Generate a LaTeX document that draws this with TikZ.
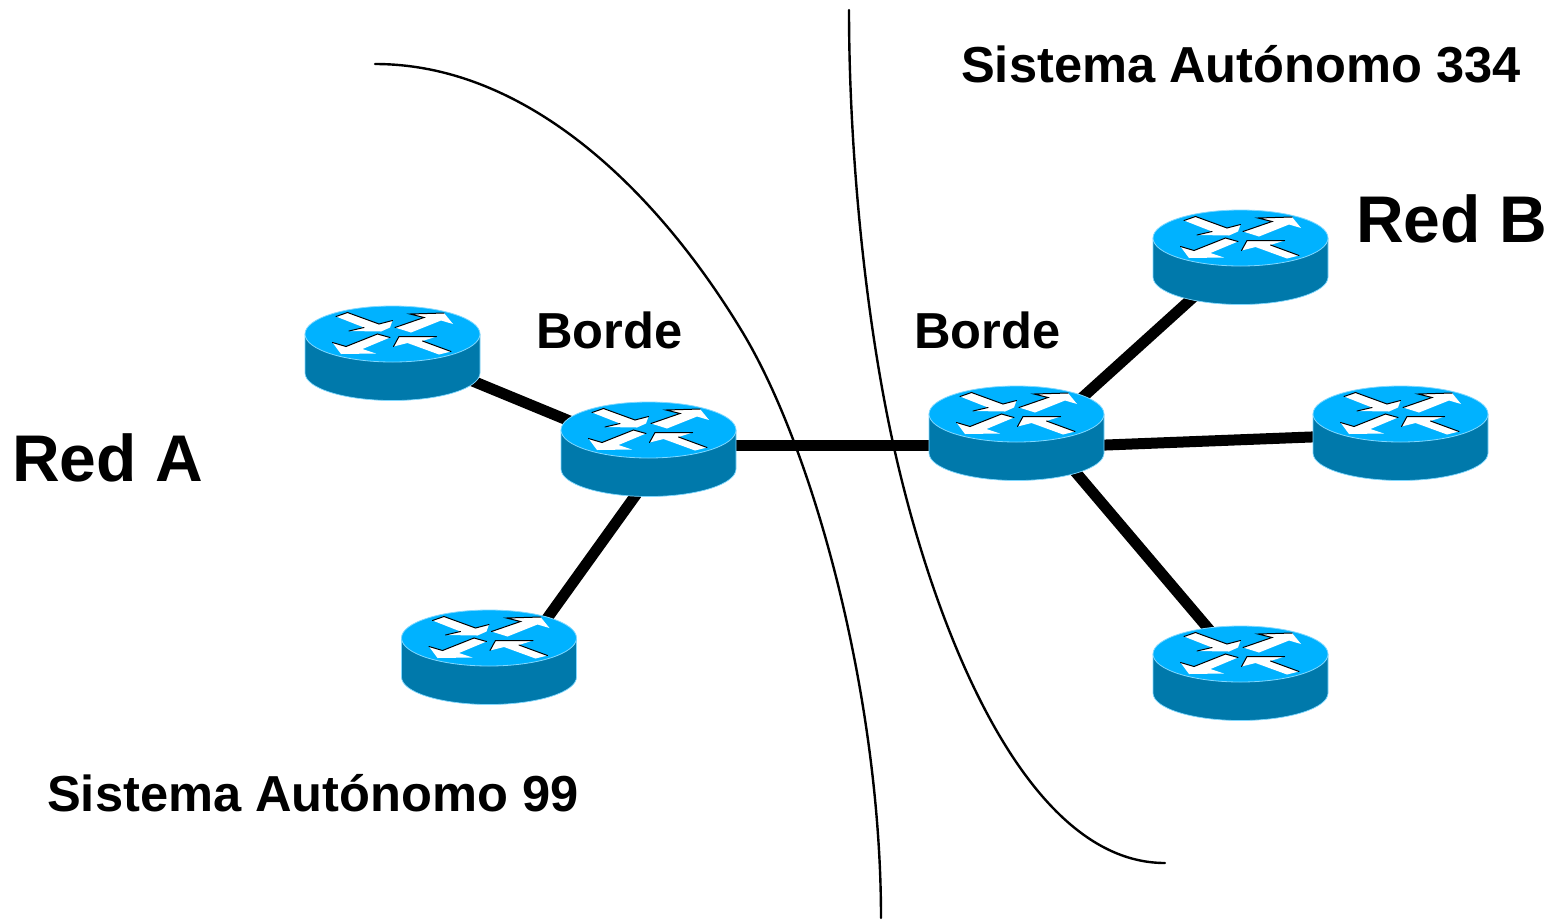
\documentclass[tikz,border=0pt]{standalone}
\usepackage{fontspec}
\setmainfont{Liberation Sans}
\usetikzlibrary{calc}
\definecolor{rtop}{HTML}{00B2FF}
\definecolor{rside}{HTML}{0079AB}
\definecolor{redge}{HTML}{80D8FF}
\tikzset{
  routerbox/.style={rectangle,minimum width=175pt,minimum height=94pt,inner sep=0pt},
  link/.style={line width=11pt,black},
  boundary/.style={line width=2.4pt,black,line cap=round},
  small label/.style={anchor=base west,inner sep=0pt,font=\fontsize{50.6}{50.6}\selectfont\bfseries},
  big label/.style={anchor=base west,inner sep=0pt,font=\fontsize{66}{66}\selectfont\bfseries},
  arrowshape/.style={fill=white,draw=none},
  arrowshade/.style={black,line width=1pt,line cap=round},
  router/.pic={
    % side, then top; origin is the centre of the top ellipse
    \fill[rside] (-87.5,0) -- (-87.5,39) arc[start angle=180,end angle=360,x radius=87.5pt,y radius=27.5pt]
       -- (87.5,0) -- cycle;
    \draw[redge,line width=.7pt] (-87.5,0) -- (-87.5,39) arc[start angle=180,end angle=360,x radius=87.5pt,y radius=27.5pt] -- (87.5,0);
    \fill[rtop] (0,0) ellipse[x radius=87.5pt,y radius=28pt];
    \draw[redge,line width=.8pt] (0,0) ellipse[x radius=87.5pt,y radius=28pt];
    % four arrows
    \fill[arrowshape] (-56.5,-17.5) -- (-45,-21.5) -- (-13.5,-10) -- (0,-13.5) -- (-2.5,-6.5) -- (-11.5,-2.5) -- (-43.5,-3) -- (-28.5,-6.5) -- cycle;
    \draw[arrowshade] (-56.5,-17.5) -- (-45,-21.5) -- (-13.5,-10) -- (0,-13.5);
    \draw[arrowshade] (-43.5,-3) -- (-28.5,-6.5);
    \fill[arrowshape] (2.5,-6.5) -- (31.5,-16.5) -- (17.5,-20) -- (51.5,-21) -- (60.5,-10) -- (48.5,-13.5) -- (18.5,-1.5) -- cycle;
    \draw[arrowshade] (2.5,-6.5) -- (31.5,-16.5) -- (17.5,-20) -- (51.5,-21);
    \fill[arrowshape] (-60,8.5) -- (-46.5,12.5) -- (-15,0) -- (-2.5,3.5) -- (-30,15) -- (-16.5,19.5) -- (-51.5,20) -- cycle;
    \draw[arrowshade] (-60,8.5) -- (-46.5,12.5) -- (-15,0) -- (-2.5,3.5);
    \fill[arrowshape] (1,12.5) -- (6.5,2.5) -- (44,2.5) -- (30,7) -- (58.5,17.5) -- (46.5,20.5) -- (15,9) -- cycle;
    \draw[arrowshade] (1,12.5) -- (6.5,2.5) -- (44,2.5);
    \draw[arrowshade] (30,7) -- (58.5,17.5);
  }
}
\begin{document}
\begin{tikzpicture}[x=1pt,y=-1pt]
\useasboundingbox (0,0) rectangle (1552,919);
% router positions
\node[routerbox] (r1) at (392.5,353.5) {};
\node[routerbox] (r2) at (648.5,449.5) {};
\node[routerbox] (r3) at (489,657.5) {};
\node[routerbox] (r4) at (1016.5,433.5) {};
\node[routerbox] (r5) at (1240.5,257.5) {};
\node[routerbox] (r6) at (1400.5,433.5) {};
\node[routerbox] (r7) at (1240.5,673.5) {};
% links
\draw[link] ($(r1)+(0,-5.5)$) -- ($(r2)+(0,4)$);
\draw[link] ($(r2)+(20,0)$) -- ($(r3)+(30,0)$);
\draw[link] ($(r2)+(0,-4.5)$) -- ($(r4)+(0,11.5)$);
\draw[link] ($(r4)+(0,23.5)$) -- ($(r5)+(0,-3)$);
\draw[link] ($(r4)+(0,15)$) -- ($(r6)+(0,0)$);
\draw[link] ($(r4)+(0,-31)$) -- ($(r7)+(0,-7)$);
% boundaries
\draw[boundary] (375,64) .. controls (530,64) and (660,195) .. (743,333)
                         .. controls (815,453) and (881,700) .. (881,918);
\draw[boundary] (849,10) .. controls (849,150) and (865,320) .. (895,452)
                         .. controls (935,628) and (1025,863) .. (1165,863);
% routers
\foreach \n in {r1,r2,r3,r4,r5,r6,r7} { \pic at ($(\n)+(0,-19.5)$) {router}; }
% labels
\node[small label] (t1) at (961,82) {Sistema Autónomo 334};
\node[small label] (t2) at (47,811) {Sistema Autónomo 99};
\node[small label] (t3) at (536,348) {Borde};
\node[small label] (t4) at (914,348) {Borde};
\node[big label] (t5) at (12,481) {Red A};
\node[big label] (t6) at (1356,242) {Red B};
\end{tikzpicture}
\end{document}
